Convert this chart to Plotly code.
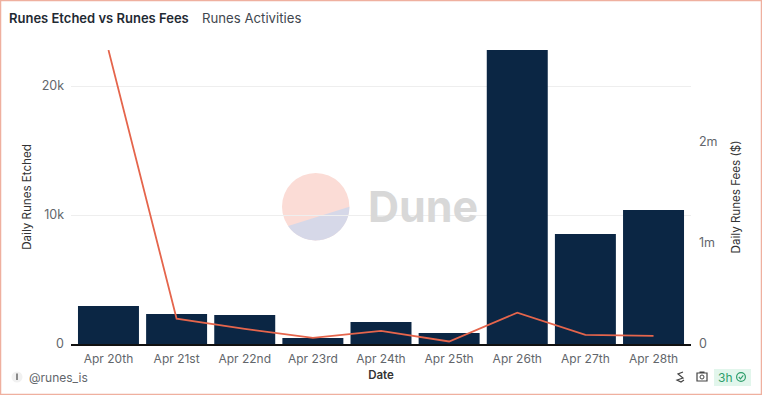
import math
import plotly.graph_objects as go

dates = ["Apr 20th", "Apr 21st", "Apr 22nd", "Apr 23rd", "Apr 24th", "Apr 25th", "Apr 26th", "Apr 27th", "Apr 28th"]
runes_etched = [2950, 2330, 2250, 470, 1700, 850, 22800, 8530, 10390]
runes_fees = [2910000, 250000, 150000, 60000, 130000, 25000, 310000, 90000, 80000]
left_ticks = [0, 10000, 20000]
left_labels = ["0", "10k", "20k"]
right_ticks = [0, 1000000, 2000000]
right_labels = ["0", "1m", "2m"]

W, H = 762, 395
L, T, PW, PH = 71, 50, 620, 294
FONT = "Inter, Liberation Sans, sans-serif"
GREY = "#62666b"
ICON = "#444444"
GREEN = "#2e9e6b"


def px(x):
    return (x - L) / PW


def py(y):
    return (T + PH - y) / PH


def paper_path(points, close=True):
    return "M" + " L".join(f"{px(x):.5f},{py(y):.5f}" for x, y in points) + (" Z" if close else "")


def paper_shape(path, fill, layer="below", line=None):
    return dict(type="path", xref="paper", yref="paper", path=path, fillcolor=fill,
                line=line or dict(width=0), layer=layer)


def rect(x0, y0, x1, y1, **kw):
    return dict(type="rect", xref="paper", yref="paper", x0=px(x0), x1=px(x1), y0=py(y0), y1=py(y1), **kw)


def circle(cx, cy, r, **kw):
    return dict(type="circle", xref="paper", yref="paper", x0=px(cx - r), x1=px(cx + r),
                y0=py(cy + r), y1=py(cy - r), **kw)


def text(x, y, s, size=12, color=GREY, anchor="left", weight=None):
    return dict(xref="paper", yref="paper", x=px(x), y=py(y), text=s, showarrow=False,
                xanchor=anchor, yanchor="middle",
                font=dict(family=FONT, size=size, color=color, weight=weight))


# Watermark: lower slice of the Dune disc
cx, cy, r = 315.7, 206.7, 33.7
a0 = math.atan2(226 - cy, 288.3 - cx)
a1 = math.atan2(206.7 - cy, 349.3 - cx)
slice_pts = [(cx + r * math.cos(a1 + (a0 - a1) * i / 40), cy + r * math.sin(a1 + (a0 - a1) * i / 40)) for i in range(41)]

NOFILL = "rgba(0,0,0,0)"
shapes = [
    circle(cx, cy, r, fillcolor="#fbdcd6", line=dict(width=0), layer="below"),
    paper_shape(paper_path(slice_pts), "#d6d8e8"),
    rect(0.5, 0.5, W - 0.5, H - 0.5, line=dict(color="#efb09f", width=1.5), fillcolor=NOFILL, layer="above"),
    # footer: avatar
    circle(17, 377, 5.5, fillcolor="#f1f1f1", line=dict(width=0), layer="above"),
    rect(16, 373.5, 18, 380, fillcolor="#8a8a8a", line=dict(width=0), layer="above"),
    # footer: age pill with check
    rect(714, 369, 751, 386, fillcolor="#e2f6ec", line=dict(width=0), layer="above"),
    circle(741, 377, 4.4, fillcolor=NOFILL, line=dict(color=GREEN, width=1.2), layer="above"),
    paper_shape(paper_path([(738.8, 377), (740.5, 378.8), (743.3, 375.4)], close=False), NOFILL, "above",
                dict(color=GREEN, width=1.1)),
    # footer: camera
    rect(697, 373, 707, 381, fillcolor=NOFILL, line=dict(color=ICON, width=1.2), layer="above"),
    rect(699.5, 371.5, 704.5, 373, fillcolor=ICON, line=dict(width=0), layer="above"),
    circle(702, 377, 2, fillcolor=NOFILL, line=dict(color=ICON, width=1), layer="above"),
    # footer: share glyph
    paper_shape(paper_path([(683, 372), (678, 374), (683, 378), (677, 380), (681, 382), (684, 380)], close=False),
                NOFILL, "above", dict(color=ICON, width=1.2)),
]

annotations = [
    text(6.5, 18, "Runes Etched vs Runes Fees", size=13, color="#1f2a33", weight=600),
    text(199.5, 18, "Runes Activities", size=13.2, color="#3f474f"),
    text(365.5, 206, "Dune", size=43, color="#d8d8d8", weight=700),
    text(27, 377, "@runes_is", size=12),
    text(716, 377, "3h", size=12, color=GREEN),
]

fig = go.Figure()
fig.add_trace(go.Bar(x=dates, y=runes_etched, name="Daily Runes Etched",
                     marker=dict(color="#0b2644", line=dict(width=0)), width=0.895, yaxis="y"))
fig.add_trace(go.Scatter(x=dates, y=runes_fees, name="Daily Runes Fees ($)", mode="lines", cliponaxis=False,
                         line=dict(color="#e5654c", width=1.8), yaxis="y2"))

fig.update_layout(
    width=W, height=H, autosize=False,
    margin=dict(l=L, r=W - L - PW, t=T, b=H - T - PH, pad=0),
    paper_bgcolor="white", plot_bgcolor="rgba(0,0,0,0)",
    showlegend=False, bargap=0.1,
    font=dict(family=FONT, size=12, color=GREY),
    xaxis=dict(type="category", categoryorder="array", categoryarray=dates, range=[-0.55, 8.55],
               showgrid=False, showline=True, linecolor="#111", linewidth=1.5, ticks="", ticklen=0,
               ticklabelstandoff=3, tickfont=dict(size=12, color=GREY), automargin=False,
               title=dict(text="Date", standoff=6, font=dict(size=11.5, color="#333", weight=600))),
    yaxis=dict(range=[0, PH / 12.9 * 1000], tickvals=left_ticks, ticktext=left_labels,
               showgrid=True, gridcolor="#eeeeee", gridwidth=1, zeroline=False, showline=False, ticks="",
               ticklabelstandoff=6, tickfont=dict(size=12.5, color=GREY), automargin=False,
               title=dict(text="Daily Runes Etched", standoff=7, font=dict(size=11.6, color="#333"))),
    yaxis2=dict(overlaying="y", side="right", range=[0, PH / 101 * 1000000], tickvals=right_ticks, ticktext=right_labels,
                showgrid=False, zeroline=False, showline=False, ticks="",
                ticklabelstandoff=7, tickfont=dict(size=12.5, color=GREY), automargin=False,
                title=dict(text="Daily Runes Fees ($)", standoff=15, font=dict(size=11.6, color="#333"))),
    shapes=shapes, annotations=annotations,
)

fig.write_html("out.html", config=dict(displayModeBar=False),
               post_script="document.body.style.margin='0';document.body.style.overflow='hidden';")
